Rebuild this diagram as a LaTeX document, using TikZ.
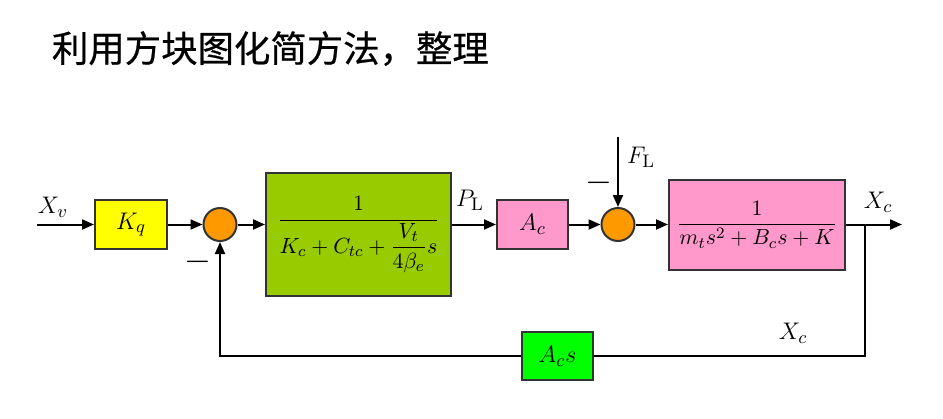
\documentclass[tikz,border=0pt]{standalone}
\usepackage{amsmath}
\usepackage{fontspec}
\newfontfamily\cjk{Noto Sans CJK SC}[FakeBold=0.6]
\usetikzlibrary{positioning,calc,arrows.meta}
\tikzset{>={Triangle[length=6pt,width=5pt]}}
\definecolor{gainyellow}{HTML}{FFFF00}
\definecolor{valvegreen}{HTML}{99CC00}
\definecolor{loadpink}{HTML}{FF99CC}
\definecolor{sumorange}{HTML}{FF9900}
\definecolor{fbgreen}{HTML}{00FF00}
\definecolor{edge}{HTML}{333333}

\begin{document}
\begin{tikzpicture}[
    x=0.5pt, y=-0.5pt,
    line width=1pt,
    font=\fontsize{13}{15}\selectfont,
    block/.style={draw=edge, line width=1pt, inner sep=0pt},
    frac/.style={font=\fontsize{11}{13}\selectfont},
    summer/.style={circle, draw=edge, fill=sumorange, minimum size=16.5pt, inner sep=0pt},
    sign/.style={inner sep=0pt},
    minus/.style={inner sep=0pt, font=\fontsize{17}{19}\selectfont}
]
\useasboundingbox (0,0) rectangle (943,418);
\node[anchor=base west, inner sep=0pt, font=\cjk\fontsize{18.2}{22}\selectfont] (title) at (51,62) {利用方块图化简方法，整理};

% forward path
\coordinate (xin) at (37,224.5);
\node[block, fill=gainyellow, minimum width=36pt, minimum height=24.5pt] (kq) at (131,224.5) {$K_q$};
\node[summer] (sum1) at (220,224.5) {};
\node[block, frac, fill=valvegreen, minimum width=92.5pt, minimum height=61.5pt] (valve) at (358.5,234.5)
    {$\dfrac{1}{K_c+C_{tc}+\dfrac{V_t}{4\beta_e}s}$};
\node[block, fill=loadpink, minimum width=35.5pt, minimum height=24.5pt] (ac) at (532.5,224.5) {$A_c$};
\node[summer] (sum2) at (618,224.5) {};
\coordinate (fl) at (618,137);
\node[block, frac, fill=loadpink, minimum width=88pt, minimum height=45pt] (plant) at (757,224.5)
    {$\dfrac{1}{m_ts^2+B_cs+K}$};
\coordinate (xout) at (902,224.5);
\coordinate (branch) at (865,224.5);

% feedback path
\node[block, fill=fbgreen, minimum width=35.5pt, minimum height=24pt] (acs) at (557.5,356) {$A_cs$};

\draw[->] (xin) -- (kq);
\draw[->] (kq) -- (sum1);
\draw[->] (sum1) -- (sum1 -| valve.west);
\draw[->] (valve.east |- ac) -- (ac);
\draw[->] (ac) -- (sum2);
\draw[->] (fl) -- (sum2);
\draw[->] (sum2) -- (plant);
\draw[->] (plant) -- (xout);
\draw (branch) |- (acs);
\draw[->] (acs) -| (sum1);

% labels
\node[sign] (lxv) at (53,207) {$X_v$};
\node[sign] (lpl) at (470,200) {$P_{\mathrm{L}}$};
\node[sign] (lfl) at (641,157) {$F_{\mathrm{L}}$};
\node[sign] (lxc) at (878,202) {$X_c$};
\node[sign] (lxcb) at (793,333) {$X_c$};
\node[minus] (m1) at (198,262) {$-$};
\node[minus] (m2) at (599,183) {$-$};
\end{tikzpicture}
\end{document}
